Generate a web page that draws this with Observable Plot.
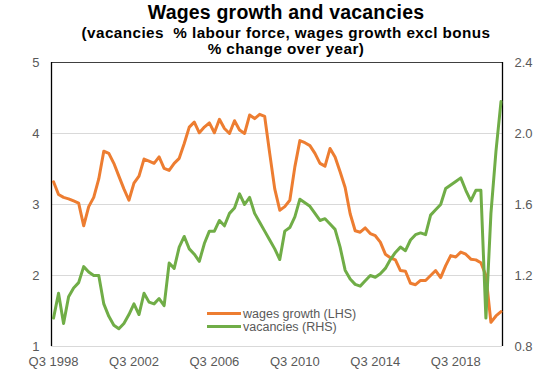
<!DOCTYPE html>
<html>
<head>
<meta charset="utf-8">
<script src="https://cdn.jsdelivr.net/npm/d3@7"></script>
<script src="https://cdn.jsdelivr.net/npm/@observablehq/plot@0.6"></script>
<style>
  html, body { margin: 0; padding: 0; background: #fff; }
  #wrap { position: relative; width: 554px; height: 388px; font-family: "Liberation Sans", Arial, sans-serif; }
  #chart { position: absolute; left: 0; top: 0; }
  .t { position: absolute; left: 0; width: 554px; text-align: center; white-space: pre; color: #000; font-weight: bold; padding-left: 18px; box-sizing: border-box; z-index: 2; }
  #title { top: 1px; font-size: 19.5px; line-height: 22px; letter-spacing: 0.2px; }
  .sub { font-size: 14px; line-height: 16px; letter-spacing: 0.4px; transform: scaleX(1.09); transform-origin: 286px 50%; }
  #sub1 { top: 25px; }
  #sub2 { top: 41px; }
  .leg { position: absolute; left: 207px; font-size: 12.5px; color: #595959; white-space: nowrap; line-height: 13px; z-index: 2; }
  .leg span.sw { display: inline-block; width: 34px; height: 3px; vertical-align: middle; margin-right: 2px; position: relative; top: -1px; }
</style>
</head>
<body>
<div id="wrap">
  <div id="chart"></div>
  <div class="t" id="title">Wages growth and vacancies</div>
  <div class="t sub" id="sub1">(vacancies  % labour force, wages growth excl bonus</div>
  <div class="t sub" id="sub2">% change over year)</div>
  <div class="leg" id="leg1" style="top:307.5px"><span class="sw" style="background:#ED7D31"></span>wages growth (LHS)</div>
  <div class="leg" id="leg2" style="top:320.5px"><span class="sw" style="background:#70AD47"></span>vacancies (RHS)</div>
</div>
<script>
// quarterly wages growth excl bonus (% y/y), LHS, from Q3 1998
const wages = [
  3.32, 3.14, 3.10, 3.08, 3.05, 3.02, 2.70, 2.97, 3.10, 3.36,
  3.75, 3.72, 3.58, 3.40, 3.22, 3.06, 3.30, 3.40, 3.64, 3.61,
  3.58, 3.67, 3.51, 3.48, 3.58, 3.65, 3.86, 4.09, 4.16, 4.01,
  4.09, 4.15, 4.01, 4.20, 4.07, 4.00, 4.18, 4.05, 4.00, 4.26,
  4.21, 4.27, 4.24, 3.72, 3.22, 2.92, 2.97, 3.06, 3.53, 3.90,
  3.87, 3.83, 3.72, 3.58, 3.54, 3.79, 3.67, 3.46, 3.24, 2.87,
  2.63, 2.61, 2.67, 2.59, 2.56, 2.47, 2.30, 2.25, 2.22, 2.07,
  2.06, 1.89, 1.87, 1.93, 1.93, 2.00, 2.07, 1.97, 2.14, 2.28,
  2.26, 2.33, 2.30, 2.23, 2.22, 2.18, 2.00, 1.34, 1.43, 1.49
];
// vacancies (% labour force), RHS
const vacancies = [
  0.96, 1.10, 0.93, 1.08, 1.13, 1.16, 1.25, 1.22, 1.20, 1.20,
  1.04, 0.97, 0.92, 0.90, 0.93, 0.98, 1.04, 0.98, 1.10, 1.05,
  1.04, 1.07, 1.03, 1.27, 1.24, 1.36, 1.42, 1.35, 1.32, 1.28,
  1.38, 1.45, 1.45, 1.51, 1.48, 1.55, 1.58, 1.66, 1.60, 1.64,
  1.55, 1.50, 1.45, 1.40, 1.35, 1.29, 1.45, 1.47, 1.53, 1.63,
  1.61, 1.59, 1.55, 1.51, 1.52, 1.49, 1.46, 1.36, 1.23, 1.18,
  1.15, 1.14, 1.17, 1.20, 1.19, 1.21, 1.24, 1.29, 1.33, 1.36,
  1.34, 1.40, 1.43, 1.44, 1.43, 1.54, 1.57, 1.60, 1.69, 1.71,
  1.73, 1.75, 1.68, 1.62, 1.68, 1.68, 0.96, 1.55, 1.90, 2.18
];
const leftTicks = [1, 2, 3, 4, 5];
const leftTickLabels = ["1", "2", "3", "4", "5"];
const rightTickLabels = ["0.8", "1.2", "1.6", "2.0", "2.4"];
const xTickLabels = ["Q3 1998", "Q3 2002", "Q3 2006", "Q3 2010", "Q3 2014", "Q3 2018"];

// quarter categories from Q3 1998
const quarters = wages.map((_, i) => {
  const k = 2 + i;
  return "Q" + ((k % 4) + 1) + " " + (1998 + Math.floor(k / 4));
});
const xTicks = xTickLabels.map(l => quarters.indexOf(l));

// RHS -> LHS mapping (0.8..2.4 onto 1..5)
const rhsToLhs = r => (r - 0.8) / 0.4 + 1;

const data = quarters.map((q, i) => ({ i, q, wages: wages[i], vac: rhsToLhs(vacancies[i]) }));
const xDomain = [-0.4, quarters.length - 1 + 0.3];

const chart = Plot.plot({
  width: 554,
  height: 388,
  marginTop: 62,
  marginBottom: 42,
  marginLeft: 51,
  marginRight: 52,
  x: { domain: xDomain, axis: null },
  y: { domain: [1, 5], axis: null },
  style: { fontFamily: "'Liberation Sans', Arial, sans-serif", fontSize: "13px", color: "#595959", background: "#fff" },
  marks: [
    Plot.ruleY([2, 3, 4], { stroke: "#d9d9d9", strokeWidth: 1 }),
    Plot.ruleY([1], { stroke: "#d9d9d9", strokeWidth: 1 }),
    Plot.ruleY([5], { stroke: "#404040", strokeWidth: 1 }),
    Plot.ruleX([xDomain[0]], { stroke: "#000", strokeWidth: 1.3 }),
    Plot.ruleX([xDomain[1]], { stroke: "#000", strokeWidth: 1.3 }),
    Plot.line(data, { x: "i", y: "wages", stroke: "#ED7D31", strokeWidth: 3 }),
    Plot.line(data, { x: "i", y: "vac", stroke: "#70AD47", strokeWidth: 3 }),
    Plot.axisY(leftTicks, { anchor: "left", tickSize: 0, tickPadding: 12, fill: "#595959", fontSize: 13, label: null,
      tickFormat: d => leftTickLabels[leftTicks.indexOf(d)] }),
    Plot.axisY(leftTicks, { anchor: "right", tickSize: 0, tickPadding: 12, fill: "#595959", fontSize: 13, label: null,
      tickFormat: d => rightTickLabels[leftTicks.indexOf(d)] }),
    Plot.axisX(xTicks, { tickSize: 0, tickPadding: 10, fill: "#595959", fontSize: 13, label: null,
      tickFormat: d => quarters[d] })
  ]
});
document.getElementById("chart").appendChild(chart);
</script>
</body>
</html>
